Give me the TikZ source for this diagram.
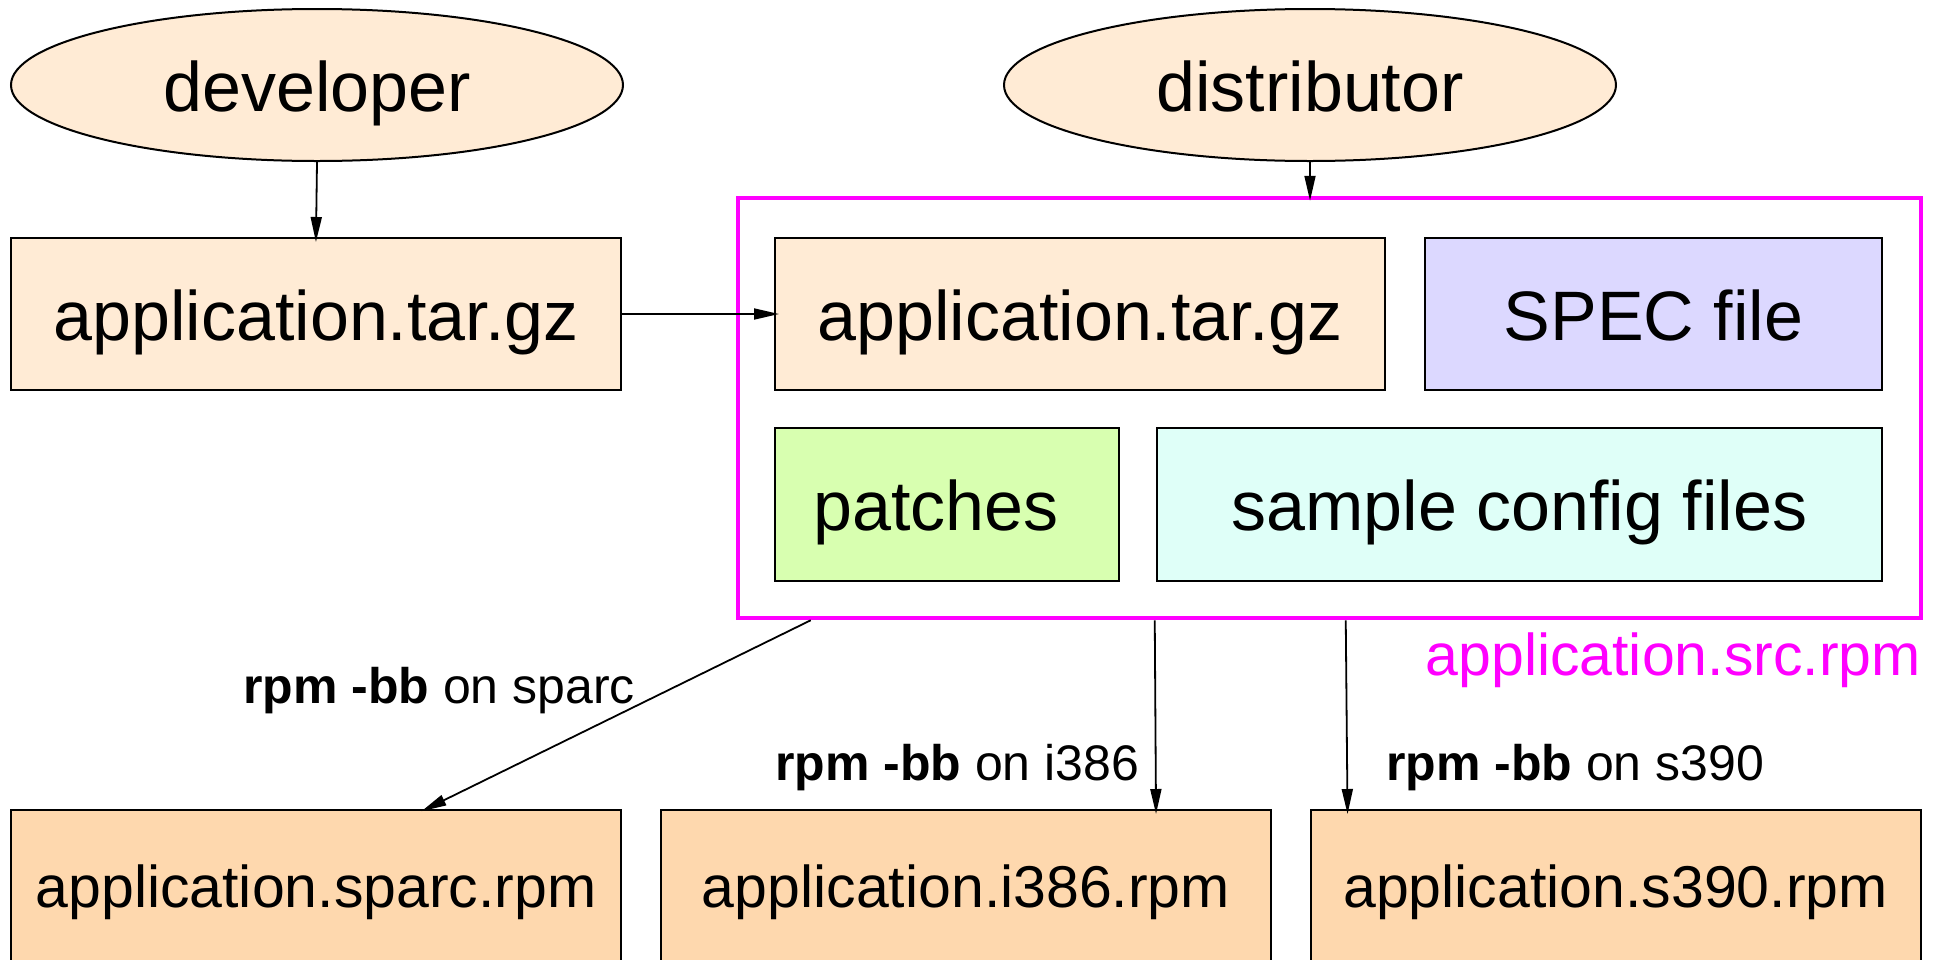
\documentclass[tikz,border=0pt]{standalone}
\usepackage{fontspec}
\setmainfont{Liberation Sans}
\usetikzlibrary{arrows.meta,shapes.geometric}
\definecolor{cream}{HTML}{FFEBD5}
\definecolor{lavend}{HTML}{DCD8FF}
\definecolor{lime}{HTML}{D8FFB0}
\definecolor{mint}{HTML}{DFFFF8}
\definecolor{peach}{HTML}{FED8AE}
\definecolor{magenta}{HTML}{FF00FF}
\tikzset{
  big/.style={font=\fontsize{70}{84}\selectfont, text height=52pt, text depth=0pt},
  mid/.style={font=\fontsize{59}{70}\selectfont, text height=42pt, text depth=0pt},
  lbl/.style={font=\fontsize{50}{60}\selectfont, inner sep=0pt},
  actor/.style={ellipse, draw, line width=2pt, fill=cream, minimum width=612pt, minimum height=152pt, inner sep=0pt, big},
  filebox/.style={rectangle, draw, line width=2pt, minimum height=152pt, inner sep=0pt, big},
  rpmbox/.style={rectangle, draw, line width=2pt, fill=peach, minimum width=610pt, minimum height=152pt, inner sep=0pt, mid},
  arr/.style={-{Triangle[length=25pt,width=11pt]}, line width=1.8pt, shorten >=-5pt},
}
\begin{document}
\begin{tikzpicture}[x=1pt,y=-1pt]
\useasboundingbox (0,0) rectangle (1941,959);
\begin{scope}
\clip (0,0) rectangle (1941,959);
\node[actor] (dev) at (317,85) {developer};
\node[actor] (dist) at (1310,85) {distributor};
\node[filebox, fill=cream, minimum width=610pt] (tar1) at (316,314) {application.tar.gz};
\node[rectangle, draw=magenta, line width=4.5pt, minimum width=1183pt, minimum height=420pt, inner sep=0pt] (cluster) at (1329.5,408) {};
\node[filebox, fill=cream, minimum width=610pt] (tar2) at (1080,314) {application.tar.gz};
\node[filebox, fill=lavend, minimum width=457pt] (spec) at (1653.5,314) {SPEC file};
\node[filebox, fill=lime, minimum width=344pt, minimum height=153pt] (patch) at (947,504.5) {patches\hspace*{22pt}};
\node[filebox, fill=mint, minimum width=725pt, minimum height=153pt] (conf) at (1519.5,504.5) {sample config files};
\node[anchor=base east, inner sep=0pt, text=magenta, font=\fontsize{59}{70}\selectfont] (clabel) at (1921,675) {application.src.rpm};
\node[rpmbox] (sparc) at (316,886) {application.sparc.rpm};
\node[rpmbox] (i386) at (966,886) {application.i386.rpm};
\node[rpmbox] (s390) at (1615.5,886) {application.s390.rpm};
\node[lbl, anchor=base east] (l1) at (635,703) {\textbf{rpm -bb} on sparc};
\node[lbl, anchor=base west] (l2) at (775,780) {\textbf{rpm -bb} on i386};
\node[lbl, anchor=base west] (l3) at (1386,780) {\textbf{rpm -bb} on s390};
\draw[arr] (dev.south) -- (tar1.north);
\draw[arr] (tar1.east) -- (tar2.west);
\draw[arr] (dist.south) -- (dist.south |- cluster.north);
\draw[arr] ([xshift=75pt]cluster.south west) -- ([xshift=416pt]sparc.north west);
\draw[arr] ([xshift=419pt]cluster.south west) -- ([xshift=496pt]i386.north west);
\draw[arr] ([xshift=610pt]cluster.south west) -- ([xshift=38pt]s390.north west);
\end{scope}
\end{tikzpicture}
\end{document}
